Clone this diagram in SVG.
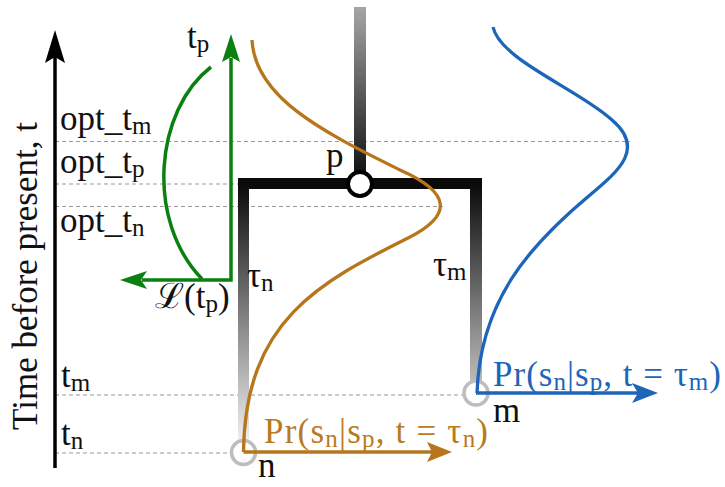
<svg xmlns="http://www.w3.org/2000/svg" width="725" height="487" viewBox="0 0 725 487">
  <defs>
    <linearGradient id="gTop" gradientUnits="userSpaceOnUse" x1="0" y1="7" x2="0" y2="184">
      <stop offset="0" stop-color="#a6a6a6"/>
      <stop offset="1" stop-color="#0a0a0a"/>
    </linearGradient>
    <linearGradient id="gDown" gradientUnits="userSpaceOnUse" x1="0" y1="184" x2="0" y2="450">
      <stop offset="0" stop-color="#0a0a0a"/>
      <stop offset="1" stop-color="#f8f8f8"/>
    </linearGradient>
    <style>
      text { font-family: "Liberation Serif", "DejaVu Serif", serif; font-size: 35px; fill: #111; }
      .sub { font-size: 25px; }
      .dash { stroke: #999; stroke-width: 1; stroke-dasharray: 4 3; fill: none; }
      .ghost { fill: none; stroke: #bdbdbd; stroke-width: 3.5; }
      .orange { stroke: #b7761c; fill: none; stroke-width: 3.3; }
      .blue { stroke: #1d65b9; fill: none; stroke-width: 3.3; }
      .green { stroke: #0a8010; fill: none; stroke-width: 3.5; }
    </style>
  </defs>
  <rect width="725" height="487" fill="#fff"/>

  <g id="guides">
    <line class="dash" x1="55" y1="141.5" x2="630" y2="141.5"/>
    <line class="dash" x1="55" y1="184" x2="244" y2="184"/>
    <line class="dash" x1="55" y1="206.5" x2="443" y2="206.5"/>
    <line class="dash" x1="55" y1="395" x2="466" y2="395"/>
    <line class="dash" x1="55" y1="453" x2="233" y2="453"/>
  </g>

  <g id="axis">
    <line x1="55" y1="468" x2="55" y2="56" stroke="#000" stroke-width="3.5"/>
    <path d="M55,30 L65,63 L55,57 L45,63 Z" fill="#000"/>
    <text transform="translate(37,276) rotate(-90)" text-anchor="middle">Time before present, t</text>
    <text x="60" y="130">opt_t<tspan class="sub" dy="4">m</tspan></text>
    <text x="60" y="173">opt_t<tspan class="sub" dy="4">p</tspan></text>
    <text x="60" y="232">opt_t<tspan class="sub" dy="4">n</tspan></text>
    <text x="61" y="387">t<tspan class="sub" dy="4">m</tspan></text>
    <text x="61" y="445">t<tspan class="sub" dy="4">n</tspan></text>
  </g>

  <g id="connectors">
    <rect x="354" y="7" width="12" height="178" fill="url(#gTop)"/>
    <rect x="238" y="178" width="244" height="11" fill="#0a0a0a"/>
    <rect x="238" y="184" width="11" height="257" fill="url(#gDown)"/>
    <rect x="470" y="184" width="12" height="197" fill="url(#gDown)"/>
  </g>

  <g id="node-p">
    <circle cx="360" cy="184" r="12" fill="#fff" stroke="#000" stroke-width="4"/>
    <text x="326" y="167">p</text>
  </g>
  <g id="node-n">
    <circle class="ghost" cx="243.5" cy="452.5" r="12"/>
    <text x="258" y="477">n</text>
  </g>
  <g id="node-m">
    <circle class="ghost" cx="476" cy="393" r="12"/>
    <text x="493" y="422">m</text>
  </g>

  <g id="branch-labels">
    <text x="247" y="287">τ<tspan class="sub" dy="4">n</tspan></text>
    <text x="433" y="276">τ<tspan class="sub" dy="4">m</tspan></text>
  </g>

  <g id="likelihood">
    <path class="green" d="M211,67 C155,110 145,220 202,279"/>
    <polyline class="green" points="231,58 231,280 142,280" stroke-linejoin="miter"/>
    <path d="M231,34 L240,62 L231,57 L222,62 Z" fill="#0a8010"/>
    <path d="M120,280 L147,271 L141,280 L147,289 Z" fill="#0a8010"/>
    <text x="187" y="48">t<tspan class="sub" dy="4">p</tspan></text>
    <text x="155" y="308">ℒ(t<tspan class="sub" dy="4">p</tspan><tspan dy="-4">)</tspan></text>
  </g>

  <g id="density-n">
    <path class="orange" d="M252,40 C255,100 330,135 400,170 C452,193 452,215 410,237 C320,282 245,320 243.5,452"/>
    <line class="orange" x1="243.5" y1="452" x2="446" y2="452"/>
    <path d="M452,452 L427,442 L432,452 L427,462 Z" fill="#b7761c"/>
    <text x="264" y="443" style="fill:#b97a1f" textLength="224">Pr(s<tspan class="sub" dy="4">n</tspan><tspan dy="-4">|s</tspan><tspan class="sub" dy="4">p</tspan><tspan dy="-4">, t = τ</tspan><tspan class="sub" dy="4">n</tspan><tspan dy="-4">)</tspan></text>
  </g>

  <g id="density-m">
    <path class="blue" d="M493,27 C500,60 580,90 612,120 C645,148 620,170 590,195 C530,245 480,300 477,393"/>
    <line class="blue" x1="476" y1="393" x2="652" y2="393"/>
    <path d="M658,393 L632,383 L638,393 L632,403 Z" fill="#1d65b9"/>
    <text x="493" y="386" style="fill:#1d65b9" textLength="228">Pr(s<tspan class="sub" dy="4">n</tspan><tspan dy="-4">|s</tspan><tspan class="sub" dy="4">p</tspan><tspan dy="-4">, t = τ</tspan><tspan class="sub" dy="4">m</tspan><tspan dy="-4">)</tspan></text>
  </g>
</svg>
